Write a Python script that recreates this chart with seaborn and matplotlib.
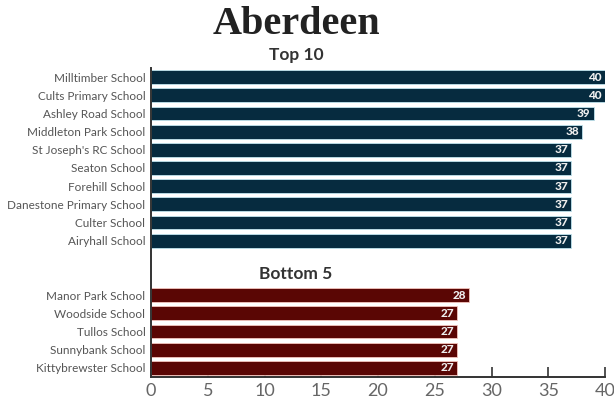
import matplotlib
matplotlib.use('Agg')
import matplotlib.pyplot as plt
import seaborn as sns
import pandas as pd

top_schools = ['Milltimber School', 'Cults Primary School', 'Ashley Road School',
               'Middleton Park School', "St Joseph's RC School", 'Seaton School',
               'Forehill School', 'Danestone Primary School', 'Culter School', 'Airyhall School']
top_values = [40, 40, 39, 38, 37, 37, 37, 37, 37, 37]
bottom_schools = ['Manor Park School', 'Woodside School', 'Tullos School',
                  'Sunnybank School', 'Kittybrewster School']
bottom_values = [28, 27, 27, 27, 27]
x_ticks = [0, 5, 10, 15, 20, 25, 30, 35, 40]

sns.set_style('white')
plt.rcParams['font.family'] = ['Lato', 'DejaVu Sans']

df = pd.DataFrame({
    'school': top_schools + bottom_schools,
    'score': top_values + bottom_values,
    'group': ['Top 10'] * len(top_schools) + ['Bottom 5'] * len(bottom_schools),
})
# two blank rows make the gap for the Bottom 5 heading
order = top_schools + [' ', '  '] + bottom_schools

fig = plt.figure(figsize=(6.14, 4.0), dpi=100)
ax = fig.add_axes([151 / 614, 1 - 377 / 400, 454 / 614, 309 / 400])

sns.barplot(data=df, x='score', y='school', hue='group', order=order, dodge=False, saturation=1,
            palette={'Top 10': '#062b3f', 'Bottom 5': '#5a0604'}, width=0.76, legend=False, ax=ax)

for bars, edge in zip(ax.containers, ['#bfe3ee', '#f3c4bd']):
    for b in bars:
        b.set_edgecolor(edge)
        b.set_linewidth(0.6)
    labels = [f'{b.get_width():.0f}' if b.get_width() > 0 else '' for b in bars]
    ax.bar_label(bars, labels=labels, padding=-12, color='#eeeeee', fontsize=8.5, fontweight='black')

ax.set_xlim(0, 40)
ax.set_ylim(16.5, -0.5)
ax.set_xticks(x_ticks)
ax.set_xlabel('')
ax.set_ylabel('')
ax.tick_params(axis='y', length=0, pad=4, labelsize=8.5, labelcolor='#555555')
ax.tick_params(axis='x', direction='in', length=7, width=1.2, color='#333333', pad=4,
               labelsize=13, labelcolor='#666666', bottom=True)
sns.despine(ax=ax)
for side in ['left', 'bottom']:
    ax.spines[side].set_color('#333333')
    ax.spines[side].set_linewidth(1.4)

fig.text(296 / 614, 1 - 25 / 400, 'Aberdeen', family=['Liberation Serif', 'DejaVu Serif'],
         fontweight='bold', fontsize=29, color='#222222', ha='center', va='center')
fig.text(296 / 614, 1 - 55 / 400, 'Top 10', fontweight='bold', fontsize=12.5,
         color='#333333', ha='center', va='center')
fig.text(296 / 614, 1 - 274 / 400, 'Bottom 5', fontweight='bold', fontsize=12.5,
         color='#333333', ha='center', va='center')

fig.savefig('out.png', dpi=100)
